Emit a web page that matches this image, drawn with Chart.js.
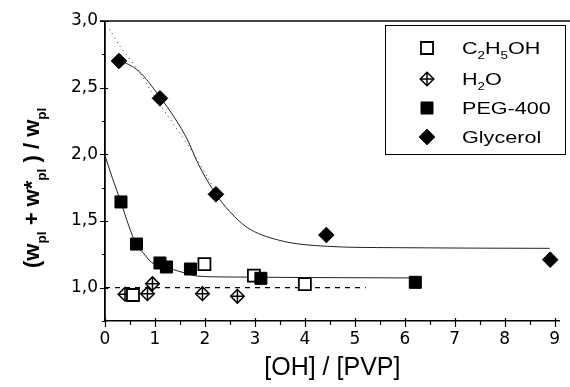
<!DOCTYPE html>
<html><head><meta charset="utf-8">
<script src="https://cdn.jsdelivr.net/npm/chart.js@4.4.1/dist/chart.umd.min.js"></script>
<style>html,body{margin:0;padding:0;background:#fff}#wrap{width:570px;height:387px;position:relative}</style>
</head><body><div id="wrap"><canvas id="c" width="570" height="387"></canvas></div>
<script>
// ---- data ----
const ethanolX = [0.56, 1.99, 2.98, 4.00];
const ethanolY = [0.945, 1.177, 1.09, 1.026];
const waterX = [0.40, 0.85, 0.95, 1.95, 2.65];
const waterY = [0.951, 0.955, 1.03, 0.955, 0.935];
const pegX = [0.32, 0.63, 1.10, 1.23, 1.71, 3.12, 6.21];
const pegY = [1.643, 1.327, 1.185, 1.155, 1.14, 1.07, 1.04];
const glyX = [0.28, 1.10, 2.22, 4.43, 8.91];
const glyY = [2.70, 2.42, 1.70, 1.395, 1.21];
// fitted curves
const pegFitX = [0, 0.15, 0.32, 0.47, 0.62, 0.80, 0.93, 1.20, 1.60, 1.85, 2.50, 4.00, 6.10];
const pegFitY = [1.99, 1.82, 1.64, 1.47, 1.33, 1.245, 1.19, 1.155, 1.11, 1.087, 1.08, 1.076, 1.073];
const glyFitX = [0.28, 0.67, 1.10, 1.40, 1.65, 1.85, 2.22, 2.50, 2.83, 3.47, 4.45, 5.76, 8.90];
const glyFitY = [2.71, 2.625, 2.43, 2.27, 2.11, 1.94, 1.70, 1.57, 1.455, 1.357, 1.31, 1.30, 1.295];
const glyDotX = [0.09, 0.30, 0.67, 0.93, 1.40, 1.75, 2.05, 2.25];
const glyDotY = [2.94, 2.81, 2.63, 2.47, 2.21, 2.02, 1.83, 1.70];
const refLineX = [0, 5.22];
const refLineY = [1.0, 1.0];
// ticks and labels
const xTicks = [0, 1, 2, 3, 4, 5, 6, 7, 8, 9];
const yTicks = [1.0, 1.5, 2.0, 2.5, 3.0];
const legendLabels = ['C_2H_5OH', 'H_2O', 'PEG-400', 'Glycerol'];
const xTitle = '[OH] / [PVP]';
const yTitleParts = [['(w', 0], ['pl', 1], [' + w*', 0], ['pl', 1], [' ) / w', 0], ['pl', 1]];

const FONT = '"Liberation Sans", Arial, Helvetica, sans-serif';
const TICKFONT = '"DejaVu Sans", "Liberation Sans", sans-serif';
const pts = (xs, ys) => xs.map((x, i) => ({x, y: ys[i]}));

const lineDs = (xs, ys, extra) => Object.assign({
  data: pts(xs, ys), showLine: true, pointRadius: 0, borderColor: '#222', borderWidth: 1,
  fill: false, cubicInterpolationMode: 'monotone', order: 10
}, extra);

const styles = {
  ethanol: {pointStyle: 'rect', pointRadius: 8.5, backgroundColor: '#fff', borderColor: '#000', borderWidth: 1.8},
  water: {pointStyle: 'rectRot', pointRadius: 6.8, backgroundColor: '#fff', borderColor: '#000', borderWidth: 1.5},
  waterCross: {pointStyle: 'cross', pointRadius: 6.8, backgroundColor: '#000', borderColor: '#000', borderWidth: 1.5},
  peg: {pointStyle: 'rect', pointRadius: 8.5, backgroundColor: '#000', borderColor: '#000', borderWidth: 1},
  gly: {pointStyle: 'rectRot', pointRadius: 7.8, backgroundColor: '#000', borderColor: '#000', borderWidth: 1}
};

function drawRich(ctx, text, x, y, size, sx, bold) {
  // "_d" marks a subscript character
  const segs = [];
  for (let i = 0; i < text.length; i++) {
    if (text[i] === '_' && i + 1 < text.length) { segs.push([text[i + 1], 1]); i++; }
    else segs.push([text[i], 0]);
  }
  drawSegs(ctx, segs, x, y, size, sx, bold);
}
function drawSegs(ctx, segs, x, y, size, sx, bold) {
  for (const [t, sub] of segs) {
    const fs = sub ? size * 0.62 : size;
    ctx.font = (bold ? 'bold ' : '') + fs + 'px ' + FONT;
    ctx.save();
    ctx.translate(x, y + (sub ? size * 0.3 : 0));
    ctx.scale(sx, 1);
    ctx.fillText(t, 0, 0);
    ctx.restore();
    x += ctx.measureText(t).width * sx;
  }
}

const decor = {
  id: 'decor',
  afterDraw(chart) {
    const ctx = chart.ctx, xs = chart.scales.x, ys = chart.scales.y, a = chart.chartArea;
    ctx.save();
    // top frame
    ctx.strokeStyle = '#444'; ctx.lineWidth = 2;
    ctx.beginPath(); ctx.moveTo(100, a.top); ctx.lineTo(570, a.top); ctx.stroke();
    // ticks
    ctx.strokeStyle = '#000'; ctx.lineWidth = 1.2;
    ctx.beginPath();
    for (let v = 0; v <= 9; v += 0.5) {
      const px = Math.round(xs.getPixelForValue(v)) + 0.5;
      if (Number.isInteger(v)) { ctx.moveTo(px, a.bottom - 3); ctx.lineTo(px, a.bottom + 6); }
      else { ctx.moveTo(px, a.bottom); ctx.lineTo(px, a.bottom + 4); }
    }
    for (let v = 0.75; v <= 3.001; v += 0.25) {
      const py = Math.round(ys.getPixelForValue(v)) + 0.5;
      if (Math.abs(v * 2 - Math.round(v * 2)) < 1e-6) { ctx.moveTo(a.left - 5, py); ctx.lineTo(a.left + 3, py); }
      else { ctx.moveTo(a.left - 3, py); ctx.lineTo(a.left, py); }
    }
    ctx.stroke();
    // legend box
    ctx.lineWidth = 1; ctx.strokeStyle = '#000';
    ctx.strokeRect(385.5, 25.5, 180, 129);
    const rows = [48, 79, 108, 137];
    const legStyles = [[styles.ethanol], [styles.water, styles.waterCross], [styles.peg], [styles.gly]];
    rows.forEach((ry, i) => {
      legStyles[i].forEach(s => {
        ctx.fillStyle = s.backgroundColor; ctx.strokeStyle = s.borderColor; ctx.lineWidth = s.borderWidth;
        Chart.helpers.drawPoint(ctx, {pointStyle: s.pointStyle, radius: s.pointRadius, rotation: 0, borderWidth: s.borderWidth}, 427, ry);
      });
      ctx.fillStyle = '#000';
      ctx.textBaseline = 'alphabetic'; ctx.textAlign = 'left';
      drawRich(ctx, legendLabels[i], 462, ry + 6, 17, 1.27, false);
    });
    // y-axis title (rotated)
    ctx.save();
    ctx.translate(39, 268);
    ctx.rotate(-Math.PI / 2);
    ctx.fillStyle = '#000'; ctx.textBaseline = 'alphabetic'; ctx.textAlign = 'left';
    drawSegs(ctx, yTitleParts, 0, 0, 22, 1, true);
    ctx.restore();
    ctx.restore();
  }
};

new Chart(document.getElementById('c'), {
  type: 'scatter',
  data: {
    datasets: [
      lineDs(pegFitX, pegFitY),
      lineDs(glyFitX, glyFitY),
      lineDs(glyDotX, glyDotY, {borderDash: [1, 4], borderColor: '#333', cubicInterpolationMode: 'default', tension: 0.3}),
      lineDs(refLineX, refLineY, {borderDash: [5, 5], borderColor: '#000', borderWidth: 1.2}),
      Object.assign({label: 'H2O', data: pts(waterX, waterY), order: 4}, styles.water),
      Object.assign({label: 'H2O cross', data: pts(waterX, waterY), order: 3}, styles.waterCross),
      Object.assign({label: 'C2H5OH', data: pts(ethanolX, ethanolY), order: 2}, styles.ethanol),
      Object.assign({label: 'PEG-400', data: pts(pegX, pegY), order: 1}, styles.peg),
      Object.assign({label: 'Glycerol', data: pts(glyX, glyY), order: 1}, styles.gly)
    ]
  },
  options: {
    responsive: false, animation: false, devicePixelRatio: 1,
    layout: {padding: {top: 21, right: 0, left: 0, bottom: 0}},
    plugins: {legend: {display: false}, tooltip: {enabled: false}},
    scales: {
      x: {
        type: 'linear', min: 0, max: 9.1,
        grid: {display: false, drawTicks: false},
        border: {display: true, color: '#000', width: 1.5},
        afterBuildTicks: s => { s.ticks = xTicks.map(v => ({value: v})); },
        afterFit: s => { s.height = 66; },
        ticks: {color: '#000', padding: 8, maxRotation: 0, autoSkip: false, font: {family: TICKFONT, size: 17}, callback: v => String(v)},
        title: {display: true, text: xTitle, color: '#000', font: {family: FONT, size: 25}, padding: {top: 0, bottom: 4}}
      },
      y: {
        type: 'linear', min: 0.75, max: 3.0,
        grid: {display: false, drawTicks: false},
        border: {display: true, color: '#000', width: 1.8},
        afterBuildTicks: s => { s.ticks = yTicks.map(v => ({value: v})); },
        afterFit: s => { s.width = 105; },
        ticks: {color: '#000', padding: 7, autoSkip: false, font: {family: TICKFONT, size: 17}, callback: v => Number(v).toFixed(1).replace('.', ',')}
      }
    }
  },
  plugins: [decor]
});
</script>
</body></html>
